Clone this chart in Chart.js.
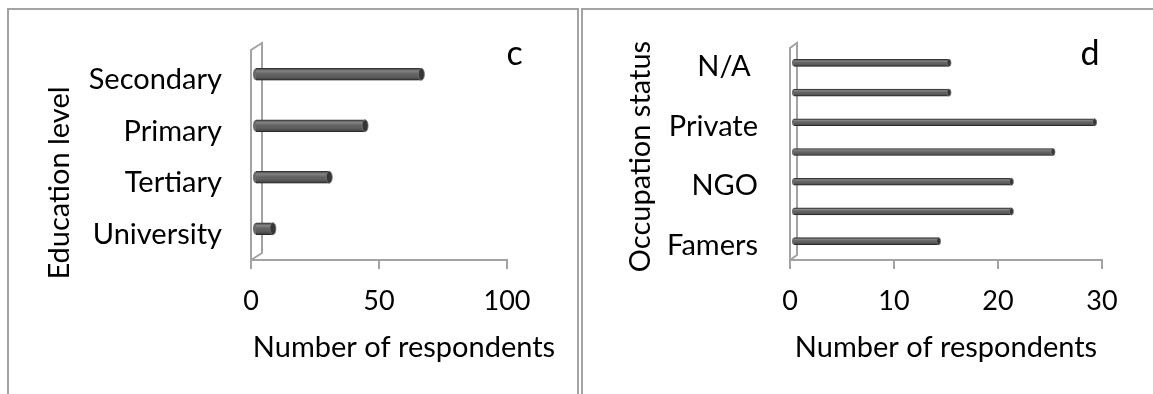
<!DOCTYPE html>
<html>
<head>
<meta charset="utf-8">
<script src="https://cdn.jsdelivr.net/npm/chart.js@4.4.1/dist/chart.umd.min.js"></script>
<style>
  html, body { margin: 0; padding: 0; background: #fff; }
  body { width: 1153px; height: 394px; position: relative; overflow: hidden; }
  .frame { position: absolute; top: 8px; height: 420px; box-sizing: border-box;
           border: 2px solid #a3a3a3; border-bottom: none; }
  #frameL { left: 7px; width: 572px; }
  #frameR { left: 581px; width: 600px; border-right: none; }
  canvas { position: absolute; top: 0; }
  #chartL { left: 0; }
  #chartR { left: 580px; }
</style>
</head>
<body>
<div class="frame" id="frameL"></div>
<div class="frame" id="frameR"></div>
<canvas id="chartL" width="578" height="394"></canvas>
<canvas id="chartR" width="573" height="394"></canvas>
<script>
// Panel c: education level of respondents
const eduLevels = ['Secondary', 'Primary', 'Tertiary', 'University'];
const eduCounts = [65, 43, 29, 7];
const eduTicks = [0, 50, 100];

// Panel d: occupation status of respondents (only every other category is labelled)
const occStatus = ['N/A ', '', 'Private', '', 'NGO', '', 'Famers'];
const occCounts = [15, 15, 29, 25, 21, 21, 14];
const occTicks = [0, 10, 20, 30];

const FONT = 'Lato';
Chart.defaults.font.family = FONT;
Chart.defaults.color = '#000';

// Draws the 3-D side wall, shifts the bars into the depth, shades them as cylinders,
// adds end caps and the text labels
function cylinderPlugin(o) {
  return {
    id: 'cylinderPlugin',
    beforeDatasetsDraw(chart) {
      const { ctx, chartArea: a } = chart;
      ctx.save();
      ctx.strokeStyle = '#a3a3a3';
      ctx.lineWidth = 2;
      ctx.beginPath();
      ctx.moveTo(a.left, a.bottom);
      ctx.lineTo(a.left, a.top - o.wallRise);
      ctx.lineTo(a.left + o.depthX, a.top - o.wallRise - o.depthY);
      ctx.lineTo(a.left + o.depthX, a.bottom - o.depthY);
      ctx.closePath();
      ctx.stroke();
      ctx.restore();
      ctx.save();
      ctx.translate(o.barDx, -o.barDy);
    },
    afterDatasetsDraw(chart) {
      const ctx = chart.ctx;
      chart.getDatasetMeta(0).data.forEach((bar) => {
        const h = bar.height;
        const top = bar.y - h / 2;
        // cylinder shading over the flat bar
        const g = ctx.createLinearGradient(0, top, 0, top + h);
        g.addColorStop(0.0, 'rgba(0,0,0,0.05)');
        g.addColorStop(0.22, 'rgba(255,255,255,0.26)');
        g.addColorStop(0.5, 'rgba(255,255,255,0.04)');
        g.addColorStop(0.85, 'rgba(0,0,0,0.15)');
        g.addColorStop(1.0, 'rgba(0,0,0,0.35)');
        ctx.fillStyle = g;
        ctx.fillRect(bar.base, top, bar.x - bar.base, h);
        // rounded near end, half hidden in the wall
        ctx.beginPath();
        ctx.ellipse(bar.base, bar.y, o.capR, h / 2, 0, Math.PI / 2, Math.PI * 1.5);
        ctx.fillStyle = '#6a6a6a';
        ctx.fill();
        // rounded far end
        ctx.beginPath();
        ctx.ellipse(bar.x, bar.y, o.capR, h / 2, 0, 0, Math.PI * 2);
        ctx.fillStyle = '#363636';
        ctx.fill();
        ctx.lineWidth = 0.8;
        ctx.strokeStyle = '#777777';
        ctx.stroke();
      });
      ctx.restore();

      ctx.save();
      ctx.fillStyle = '#000';
      ctx.textAlign = 'center';
      ctx.textBaseline = 'middle';
      ctx.font = `${o.titleSize}px ${FONT}`;
      ctx.fillText(o.xTitle, o.xTitlePos[0], o.xTitlePos[1]);
      ctx.save();
      ctx.translate(o.yTitlePos[0], o.yTitlePos[1]);
      ctx.rotate(-Math.PI / 2);
      ctx.fillText(o.yTitle, 0, 0);
      ctx.restore();
      ctx.textBaseline = 'alphabetic';
      ctx.font = `${o.tagSize}px ${FONT}`;
      ctx.fillText(o.tag, o.tagPos[0], o.tagPos[1]);
      ctx.restore();
    }
  };
}

function makeChart(id, cfg) {
  return new Chart(document.getElementById(id), {
    type: 'bar',
    data: {
      labels: cfg.labels,
      datasets: [{
        data: cfg.values,
        backgroundColor: '#5a5a5a',
        borderColor: '#363636',
        borderWidth: 1,
        borderSkipped: 'start',
        barThickness: cfg.thickness,
        clip: false
      }]
    },
    options: {
      indexAxis: 'y',
      responsive: false,
      animation: false,
      events: [],
      layout: { padding: cfg.padding },
      plugins: { legend: { display: false }, tooltip: { enabled: false }, title: { display: false } },
      scales: {
        x: {
          min: cfg.ticks[0],
          max: cfg.ticks[cfg.ticks.length - 1],
          afterBuildTicks: (s) => { s.ticks = cfg.ticks.map((v) => ({ value: v })); },
          afterFit: (s) => { s.height = cfg.xAxisHeight; },
          ticks: { font: { size: 27 }, color: '#000', padding: 16, maxRotation: 0 },
          grid: { display: true, drawOnChartArea: false, drawTicks: true, tickLength: 9,
                  color: '#a3a3a3', lineWidth: 2 },
          border: { display: true, color: '#a3a3a3', width: 2 }
        },
        y: {
          afterFit: (s) => { s.width = cfg.yAxisWidth; },
          ticks: { font: { size: 29 }, color: '#000', padding: cfg.labelPad, autoSkip: false },
          grid: { display: false, drawTicks: false },
          border: { display: false }
        }
      }
    },
    plugins: [cylinderPlugin(cfg.deco)]
  });
}

makeChart('chartL', {
  labels: eduLevels,
  values: eduCounts,
  ticks: eduTicks,
  thickness: 12,
  padding: { left: 0, top: 54, right: 71, bottom: 0 },
  yAxisWidth: 251,
  xAxisHeight: 134,
  labelPad: 29,
  deco: {
    wallRise: 4, depthX: 11, depthY: 7, barDx: 4, barDy: 5.5, capR: 3,
    titleSize: 29, xTitle: 'Number of respondents', xTitlePos: [404, 348],
    yTitle: 'Education level', yTitlePos: [60, 183],
    tagSize: 34, tag: 'c', tagPos: [514.5, 65]
  }
});

makeChart('chartR', {
  labels: occStatus,
  values: occCounts,
  ticks: occTicks,
  thickness: 7,
  padding: { left: 0, top: 52, right: 51, bottom: 0 },
  yAxisWidth: 210,
  xAxisHeight: 134,
  labelPad: 32,
  deco: {
    wallRise: 4, depthX: 7, depthY: 5, barDx: 3, barDy: 4, capR: 2,
    titleSize: 29, xTitle: 'Number of respondents', xTitlePos: [366, 348],
    yTitle: 'Occupation status', yTitlePos: [61, 156.5],
    tagSize: 34, tag: 'd', tagPos: [510, 65]
  }
});
</script>
</body>
</html>
